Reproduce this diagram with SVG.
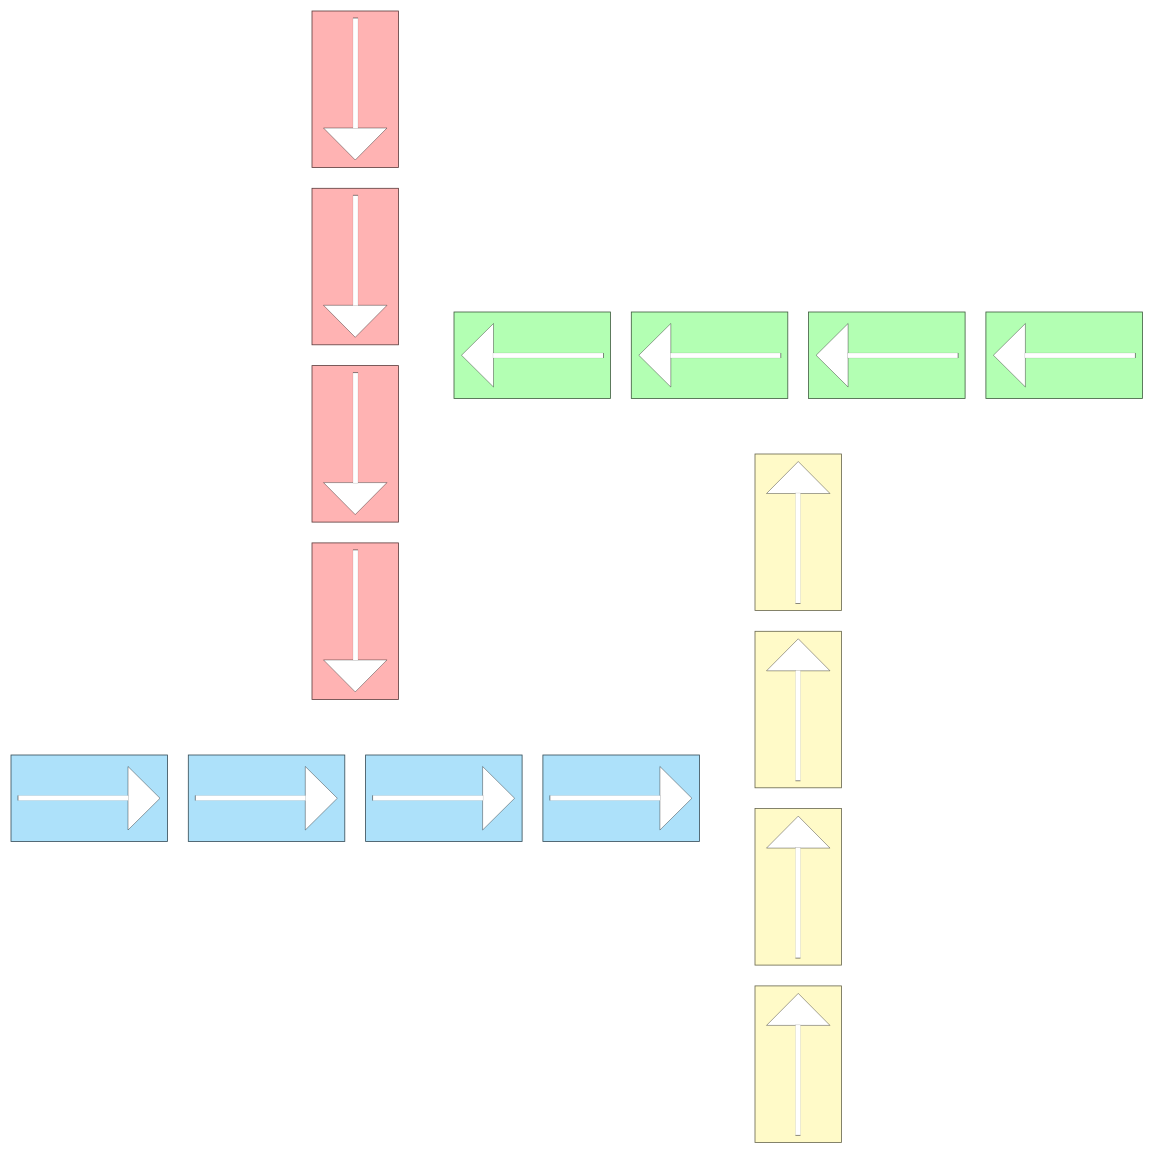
<svg xmlns="http://www.w3.org/2000/svg" width="1154" height="1154" viewBox="0 0 1154 1154">
  <style>
    .red{fill:#FFB3B3;stroke:#5a3a3a;stroke-width:0.8}
    .green{fill:#B3FFB3;stroke:#3d5a3d;stroke-width:0.8}
    .yellow{fill:#FFFAC8;stroke:#66644b;stroke-width:0.8}
    .blue{fill:#ADE1FA;stroke:#334a55;stroke-width:0.8}
  </style>
  <defs>
    <g id="tile">
      <rect x="0" y="0" width="86.5" height="156.5"/>
      <polygon points="75,117 43.25,149 11.5,117" fill="#FFFFFF" stroke="#000000" stroke-width="0.45" stroke-opacity="0.8"/>
      <rect x="41" y="7" width="5" height="110.5" fill="#FFFFFF" stroke="#000000" stroke-width="0.3" stroke-opacity="0.25"/>
      <line x1="41" y1="7" x2="46" y2="7" stroke="#000000" stroke-width="0.6" stroke-opacity="0.7"/>
    </g>
  </defs>
  <rect width="1154" height="1154" fill="#FFFFFF"/>
  <g id="red-tiles">
    <g id="red1"><use href="#tile" class="red" transform="translate(312,11)"/></g>
    <g id="red2"><use href="#tile" class="red" transform="translate(312,188.3)"/></g>
    <g id="red3"><use href="#tile" class="red" transform="translate(312,365.6)"/></g>
    <g id="red4"><use href="#tile" class="red" transform="translate(312,542.9)"/></g>
  </g>
  <g id="green-tiles">
    <g id="green1"><use href="#tile" class="green" transform="translate(610.5,312) rotate(90)"/></g>
    <g id="green2"><use href="#tile" class="green" transform="translate(787.8,312) rotate(90)"/></g>
    <g id="green3"><use href="#tile" class="green" transform="translate(965.1,312) rotate(90)"/></g>
    <g id="green4"><use href="#tile" class="green" transform="translate(1142.4,312) rotate(90)"/></g>
  </g>
  <g id="yellow-tiles">
    <g id="yellow1"><use href="#tile" class="yellow" transform="translate(841.5,610.5) rotate(180)"/></g>
    <g id="yellow2"><use href="#tile" class="yellow" transform="translate(841.5,787.8) rotate(180)"/></g>
    <g id="yellow3"><use href="#tile" class="yellow" transform="translate(841.5,965.1) rotate(180)"/></g>
    <g id="yellow4"><use href="#tile" class="yellow" transform="translate(841.5,1142.4) rotate(180)"/></g>
  </g>
  <g id="blue-tiles">
    <g id="blue1"><use href="#tile" class="blue" transform="translate(11,841.5) rotate(-90)"/></g>
    <g id="blue2"><use href="#tile" class="blue" transform="translate(188.3,841.5) rotate(-90)"/></g>
    <g id="blue3"><use href="#tile" class="blue" transform="translate(365.6,841.5) rotate(-90)"/></g>
    <g id="blue4"><use href="#tile" class="blue" transform="translate(542.9,841.5) rotate(-90)"/></g>
  </g>
  <g id="connectors"/>
</svg>
